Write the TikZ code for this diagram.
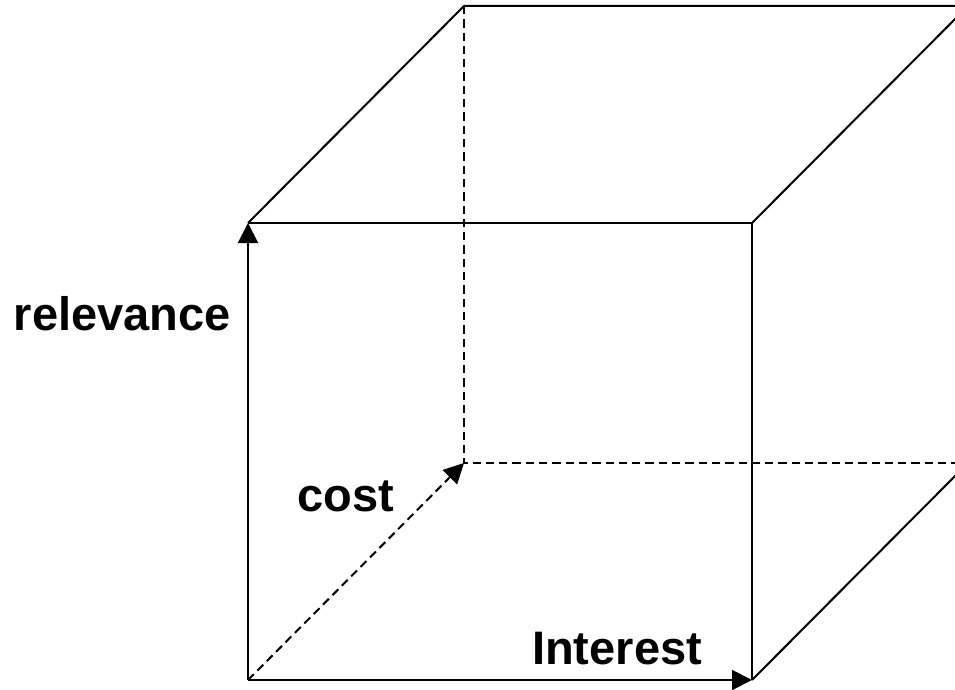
\documentclass[tikz,border=0pt]{standalone}
\usepackage{fontspec}
\setmainfont{Liberation Sans}
\usetikzlibrary{positioning,arrows.meta}

\begin{document}
\begin{tikzpicture}[
    x=1pt, y=-1pt,
    edge/.style={draw, line width=2pt},
    hidden/.style={edge, dash pattern=on 8.3pt off 5pt},
    axis/.style={-{Triangle[length=20pt,width=20pt]}},
    axislabel/.style={font=\fontsize{47}{56}\selectfont\bfseries, inner sep=0pt}
]
\useasboundingbox (0,0) rectangle (955,690);
\clip (0,0) rectangle (955,690);

% front face
\coordinate (fbl) at (248,680);
\coordinate (fbr) at (752,680);
\coordinate (ftl) at (248,223);
\coordinate (ftr) at (752,223);
% back face
\coordinate (bbl) at (464,463);
\coordinate (bbr) at (968,463);
\coordinate (btl) at (464,6);
\coordinate (btr) at (968,6);

\draw[edge] (ftl) -- (ftr) -- (fbr);
\draw[edge] (ftl) -- (btl) -- (btr);
\draw[edge] (ftr) -- (btr);
\draw[edge] (fbr) -- (bbr);
\draw[hidden] (btl) -- (bbl) -- (bbr);

\draw[edge, axis] (fbl) -- (ftl);
\draw[edge, axis] (fbl) -- (fbr);
\draw[hidden, axis] (fbl) -- (bbl);

\node[axislabel, anchor=base east] (relevance) at (231,330) {relevance};
\node[axislabel, anchor=base west] (cost) at (297,511) {cost};
\node[axislabel, anchor=base west] (interest) at (532,664) {Interest};
\end{tikzpicture}
\end{document}
